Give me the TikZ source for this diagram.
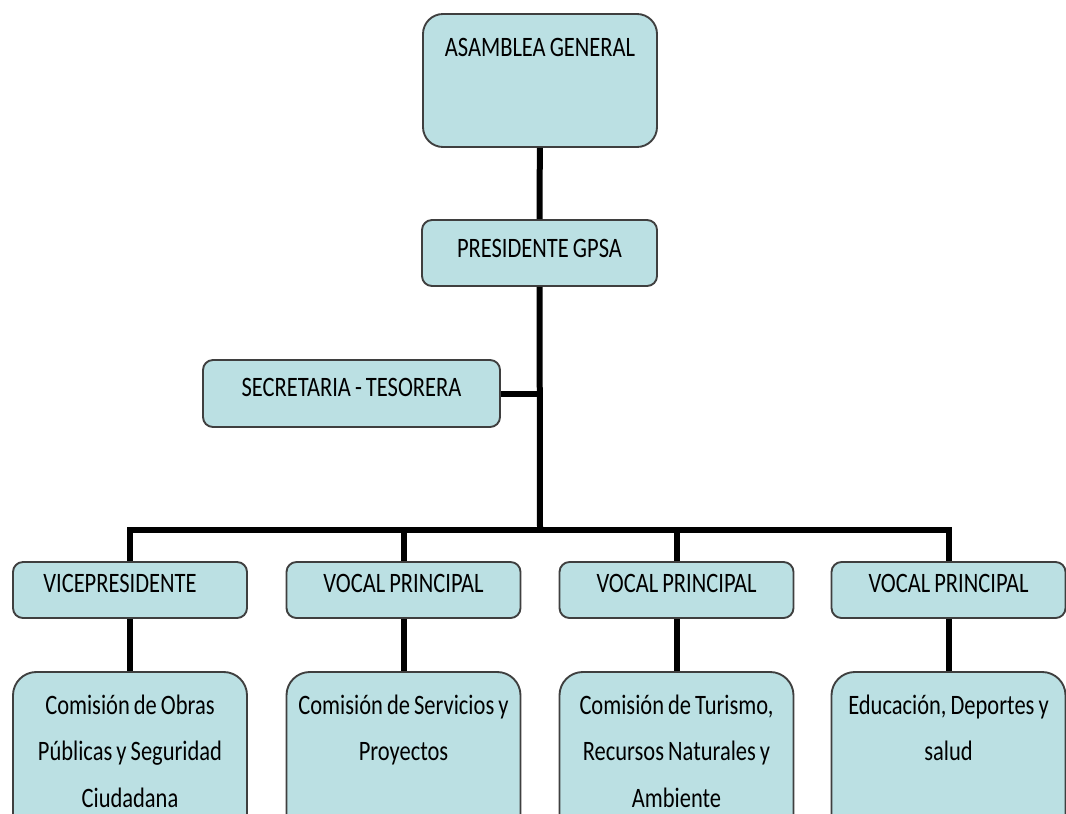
\documentclass[tikz,border=0pt]{standalone}
\usepackage{fontspec}
\setmainfont[FakeStretch=0.8, WordSpace=0.8]{Carlito}
\definecolor{boxfill}{HTML}{BBE0E3}
\definecolor{boxline}{HTML}{3F3F3F}
\tikzset{
  box/.style={draw=boxline, fill=boxfill, line width=1.6pt, rounded corners=0.3cm,
    inner ysep=0pt, minimum width=7.02cm, align=center,
    font=\fontsize{24}{40}\selectfont},
  rowbox/.style={box, text height=0.9cm, text depth=0.78cm},
  combox/.style={box, rounded corners=0.7cm, inner xsep=0pt, text width=7cm,
    align=flush center, text height=1.26cm, text depth=3.78cm},
  link/.style={line width=0.18cm, black, line join=miter}
}
\begin{document}
\begin{tikzpicture}[x=0.03cm, y=0.03cm]
\clip (0,0) rectangle (1066,-813);
% top of the chart
\node [box, rounded corners=0.6cm, text height=1.26cm, text depth=2.73cm] (asamblea) at (540,-80.5) {ASAMBLEA GENERAL};
\node [box, minimum width=7.05cm, text height=1.11cm, text depth=0.87cm] (presidente) at (539.5,-253) {PRESIDENTE GPSA};
\node [box, minimum width=8.91cm, text height=1.08cm, text depth=0.93cm] (secretaria) at (351.5,-393.5) {SECRETARIA - TESORERA};
\coordinate (hub) at (540,-530);
% second row
\node [rowbox] (vice) at (130,-590) {VICEPRESIDENTE\hspace*{0.6cm}};
\node [rowbox] (vocala) at (403.5,-590) {VOCAL PRINCIPAL};
\node [rowbox] (vocalb) at (676.5,-590) {VOCAL PRINCIPAL};
\node [rowbox] (vocalc) at (948.5,-590) {VOCAL PRINCIPAL};
% commissions
\node [combox] (obras) at (130,-756) {Comisión de Obras\\Públicas y Seguridad\\Ciudadana};
\node [combox] (servicios) at (403.5,-756) {Comisión de Servicios y\\Proyectos};
\node [combox] (turismo) at (676.5,-756) {Comisión de Turismo,\\Recursos Naturales y\\Ambiente};
\node [combox] (educacion) at (948.5,-756) {Educación, Deportes y\\salud};
% connectors
\draw [link] (asamblea) -- (presidente);
\draw [link] (presidente) -- (hub);
\draw [link] (secretaria.east) -- (secretaria.east -| hub);
\draw [link] (vice.north) |- (hub) -| (vocalc.north);
\draw [link] (vocala.north) -- (vocala.north |- hub);
\draw [link] (vocalb.north) -- (vocalb.north |- hub);
\draw [link] (vice) -- (obras);
\draw [link] (vocala) -- (servicios);
\draw [link] (vocalb) -- (turismo);
\draw [link] (vocalc) -- (educacion);
\end{tikzpicture}
\end{document}
